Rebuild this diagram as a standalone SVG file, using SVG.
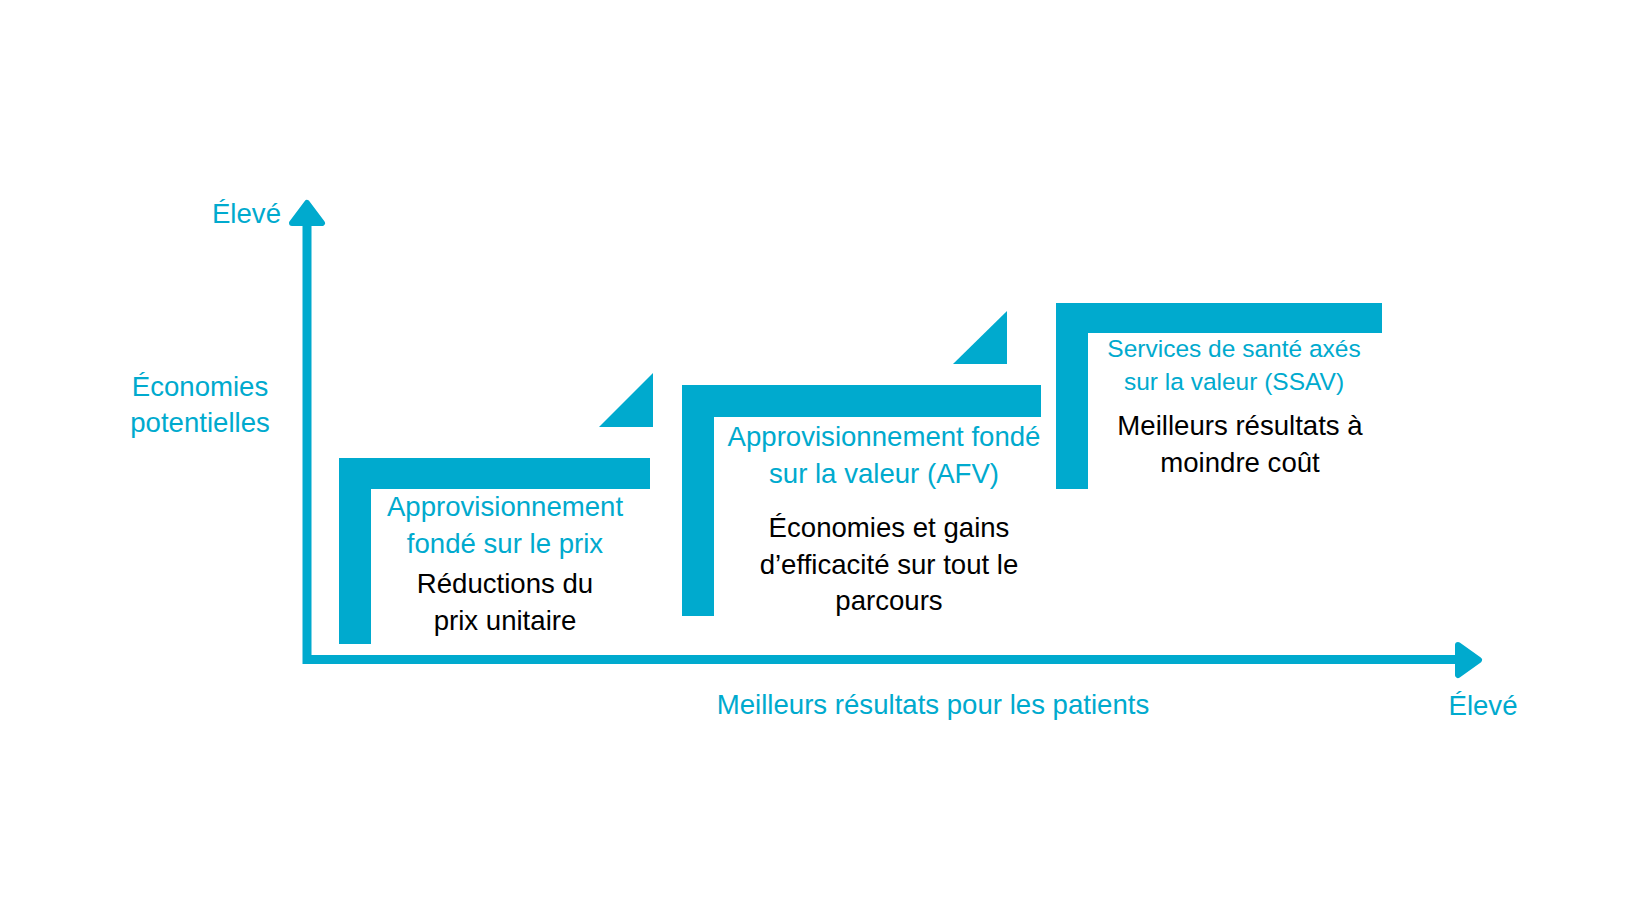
<svg xmlns="http://www.w3.org/2000/svg" width="1650" height="900" viewBox="0 0 1650 900">
<style>
.c{fill:#00AACE}
.t{font-family:"Liberation Sans",Arial,sans-serif;font-size:27.6px;text-anchor:middle}
.b{fill:#00AACE}
.k{fill:#000000}
.s{font-size:24.5px}
.ax{stroke:#00AACE;stroke-width:9;fill:none}
.ah{fill:#00AACE;stroke:#00AACE;stroke-width:6;stroke-linejoin:round}
</style>
<rect width="1650" height="900" fill="#ffffff"/>
<g id="axes">
<line class="ax" x1="307" y1="222" x2="307" y2="664"/>
<line class="ax" x1="303" y1="659.5" x2="1460" y2="659.5"/>
<path class="ah" d="M307,203 L322,223 L292,223 Z"/>
<path class="ah" d="M1479,660 L1458,675 L1458,645 Z"/>
</g>
<g id="axis-labels">
<text class="t b" x="281" y="223" style="text-anchor:end">Élevé</text>
<text class="t b" x="200" y="396">Économies</text>
<text class="t b" x="200" y="432">potentielles</text>
<text class="t b" x="933" y="714">Meilleurs résultats pour les patients</text>
<text class="t b" x="1483" y="715">Élevé</text>
</g>
<g id="step1">
<path class="c" d="M339,458 H650 V489 H371 V644 H339 Z"/>
<text class="t b" x="505" y="516">Approvisionnement</text>
<text class="t b" x="505" y="553">fondé sur le prix</text>
<text class="t k" x="505" y="593">Réductions du</text>
<text class="t k" x="505" y="630">prix unitaire</text>
</g>
<g id="connectors">
<path class="c" d="M653,373 V427 H599 Z"/>
<path class="c" d="M1007,311 V364 H953 Z"/>
</g>
<g id="step2">
<path class="c" d="M682,385 H1041 V417 H714 V616 H682 Z"/>
<text class="t b" x="884" y="446">Approvisionnement fondé</text>
<text class="t b" x="884" y="483">sur la valeur (AFV)</text>
<text class="t k" x="889" y="537">Économies et gains</text>
<text class="t k" x="889" y="574">d’efficacité sur tout le</text>
<text class="t k" x="889" y="610">parcours</text>
</g>
<g id="step3">
<path class="c" d="M1056,303 H1382 V333 H1088 V489 H1056 Z"/>
<text class="t b s" x="1234" y="357">Services de santé axés</text>
<text class="t b s" x="1234" y="390">sur la valeur (SSAV)</text>
<text class="t k" x="1240" y="435">Meilleurs résultats à</text>
<text class="t k" x="1240" y="472">moindre coût</text>
</g>
</svg>
